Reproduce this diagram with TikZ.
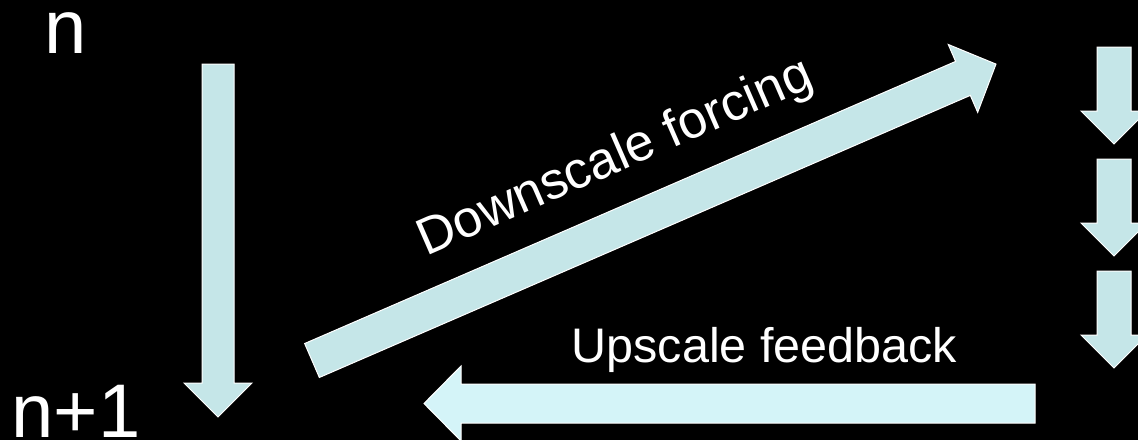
\documentclass[tikz,border=0pt]{standalone}
\usepackage{fontspec}
\setmainfont{Liberation Sans}
\newcommand{\arrowpath}[4]{(0,#2) -- ({#1-#4},#2) -- ({#1-#4},#3) -- (#1,0) -- ({#1-#4},-#3) -- ({#1-#4},-#2) -- (0,-#2) -- cycle}
\definecolor{arrowblue}{HTML}{C5E6E8}
\definecolor{arrowcyan}{HTML}{D4F4F8}
\tikzset{
  blockarrow/.style={fill=arrowblue, draw=white, line width=1pt, line join=miter},
  blockarrowlight/.style={blockarrow, fill=arrowcyan},
  bigtext/.style={text=white, inner sep=0pt, font=\fontsize{76}{80}\selectfont},
  labeltext/.style={text=white, inner sep=0pt, font=\fontsize{48.5}{52}\selectfont},
  difftext/.style={text=white, inner sep=0pt, font=\fontsize{52}{56}\selectfont}
}
\begin{document}
\begin{tikzpicture}[x=1pt,y=-1pt]
\fill[black] (0,0) rectangle (1138,440);
\useasboundingbox (0,0) rectangle (1138,440);
% time labels
\node[bigtext, anchor=base] (n) at (65.5,53) {n};
\node[bigtext, anchor=base] (n1) at (76,437) {n+1};
% left long time arrow
\begin{scope}[shift={(218,64)}, rotate=-90]
  \draw[blockarrow] \arrowpath{353}{16}{34}{34};
\end{scope}
% small arrows on the right
\foreach \t/\nm in {47/s1,159/s2,271/s3}{
  \begin{scope}[shift={(1114,\t)}, rotate=-90]
    \draw[blockarrow] \arrowpath{97}{17}{33}{33};
  \end{scope}
}
% diagonal downscale arrow
\coordinate (dtail) at (312,360.5);
\coordinate (dtip) at (996,64);
\begin{scope}[shift={(dtail)}, rotate=23.43]
  \draw[blockarrow] \arrowpath{745.5}{18.5}{37}{36};
\end{scope}
% horizontal upscale arrow
\coordinate (htail) at (1035,403.5);
\coordinate (htip) at (424,403.5);
\begin{scope}[shift={(htail)}, rotate=180]
  \draw[blockarrowlight] \arrowpath{611}{19.5}{37.5}{37};
\end{scope}
% labels
\node[difftext, anchor=base, rotate=23.6] (down) at (621,171) {Downscale forcing};
\node[labeltext, anchor=base] (up) at (764.5,362) {Upscale feedback};
\end{tikzpicture}
\end{document}
